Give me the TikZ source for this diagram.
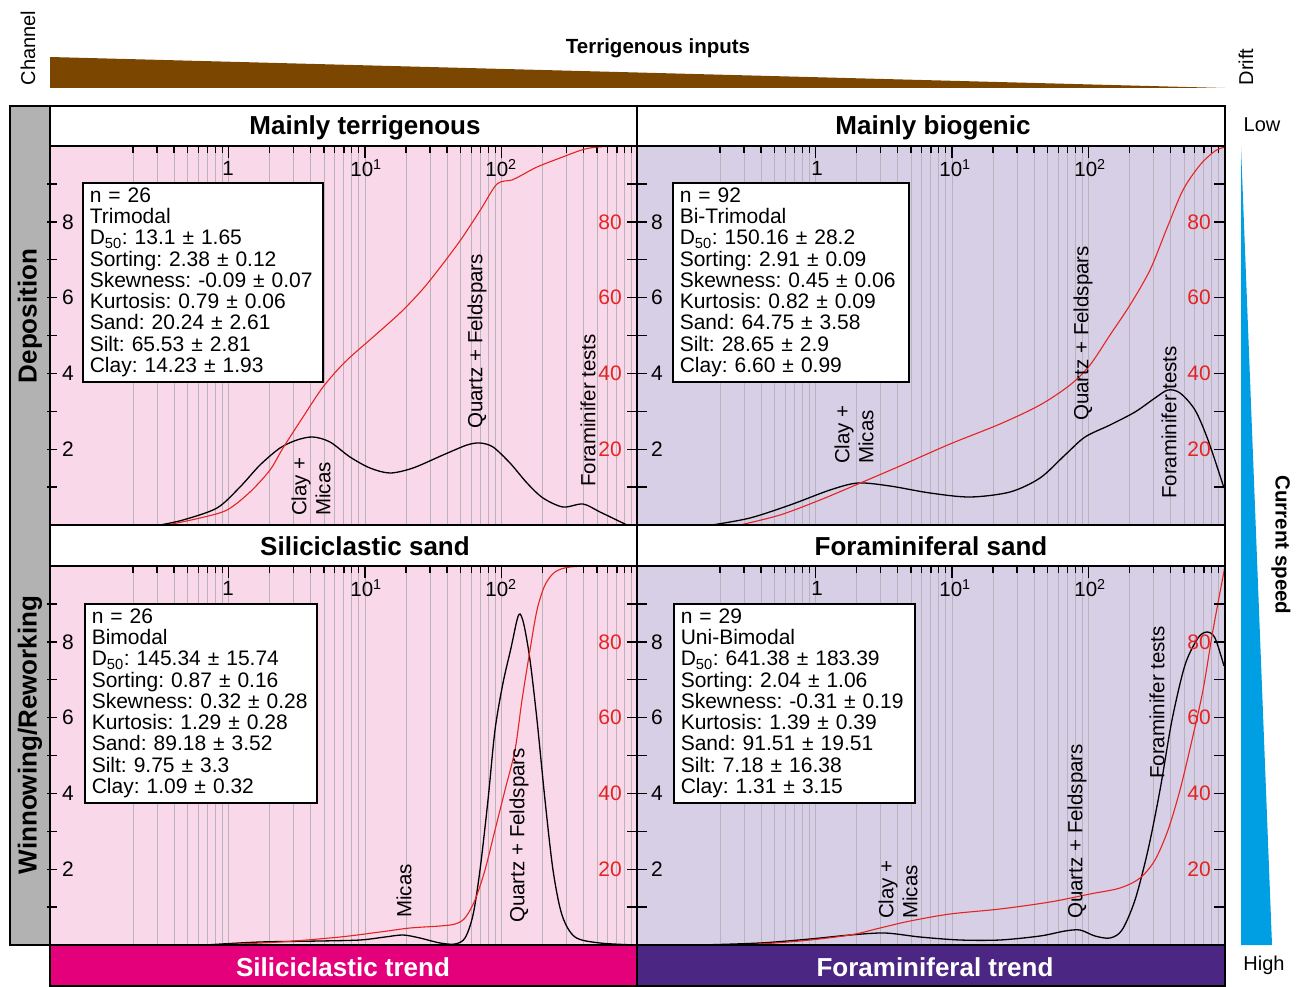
\documentclass[tikz,border=0pt]{standalone}
\usepackage{fontspec}
\setmainfont{Liberation Sans}
\frenchspacing

\definecolor{sedpink}{HTML}{F8D8E9}
\definecolor{biolilac}{HTML}{D7CFE6}
\definecolor{trendmagenta}{HTML}{E3007A}
\definecolor{trendpurple}{HTML}{4B2683}
\definecolor{terrbrown}{HTML}{7B4700}
\definecolor{speedblue}{HTML}{009FE3}
\definecolor{bargray}{HTML}{B2B2B2}
\definecolor{cumred}{HTML}{E52421}
\definecolor{gridgray}{HTML}{B9B3BE}

\newcommand*{\decW}{136.5}   % px per decade
\newcommand*{\unitH}{37.9}   % px per y unit
\newcommand*{\statfont}{\fontsize{21}{21.25}\selectfont}
\newcommand*{\labfont}{\fontsize{20.5}{24}\selectfont}

\tikzset{
	gridline/.style={draw=gridgray, line width=0.8pt},
	axtick/.style={line width=1.4pt},
	frame/.style={line width=1.6pt},
	freqcurve/.style={black, line width=1.3pt},
	cumcurve/.style={cumred, line width=1.1pt},
	statbox/.style={draw, fill=white, line width=1.6pt, align=left, anchor=north west,
		font=\statfont, inner xsep=7pt, inner ysep=5pt},
	header/.style={font=\fontsize{26}{26}\selectfont\bfseries},
	sidelab/.style={font=\fontsize{20}{20}\selectfont},
	minlab/.style={rotate=90, anchor=west, inner sep=0pt, align=left, font=\labfont},
	ylab/.style={font=\fontsize{21}{21}\selectfont},
	pctlab/.style={font=\fontsize{21}{21}\selectfont, text=cumred},
	declab/.style={font=\fontsize{20.5}{21}\selectfont}
}

\begin{document}
\begin{tikzpicture}[x=1pt,y=-1pt]
	\useasboundingbox (0,0) rectangle (1303,987);
	
	% terrigenous inputs wedge
	\fill[terrbrown] (50,57) -- (1225,88) -- (50,88) -- cycle;
	\node[sidelab, rotate=90] (channel) at (28,48) {Channel};
	\node[sidelab, rotate=90] (drift) at (1246,67) {Drift};
	\node[font=\fontsize{20.5}{21}\selectfont\bfseries] (terr) at (658,48) {Terrigenous inputs};
	
	% panel backgrounds
	\fill[sedpink] (50,146) rectangle (637,525);
	\fill[biolilac] (637,146) rectangle (1225,525);
	\fill[sedpink] (50,566) rectangle (637,945);
	\fill[biolilac] (637,566) rectangle (1225,945);
	\fill[bargray] (10,106) rectangle (50,945);
	
	% log grid and top ticks
	\foreach \px in {50,637} {
		\foreach \n in {-1,0,1,2} {
			\foreach \k in {1,...,9} {
				\pgfmathsetmacro{\gx}{\px+178.5+\decW*(\n+log10(\k))}
				\pgfmathtruncatemacro{\keep}{\gx>\px+60}
				\ifnum\keep=1
					\draw[gridline] (\gx,146) -- (\gx,525) (\gx,566) -- (\gx,945);
					\ifnum\k=1
						\draw[axtick] (\gx,146) -- ++(0,12) (\gx,566) -- ++(0,12);
					\else
						\draw[axtick] (\gx,146) -- ++(0,7) (\gx,566) -- ++(0,7);
					\fi
				\fi
			}
		}
	}
	
	% decade labels
	\node[declab] (dTL0) at (228,168) {1};
	\node[declab] (dTL1) at (366,168) {10\textsuperscript{1}};
	\node[declab] (dTL2) at (501,168) {10\textsuperscript{2}};
	\node[declab] (dTR0) at (817,168) {1};
	\node[declab] (dTR1) at (955,168) {10\textsuperscript{1}};
	\node[declab] (dTR2) at (1090,168) {10\textsuperscript{2}};
	\node[declab] (dBL0) at (228,588) {1};
	\node[declab] (dBL1) at (366,588) {10\textsuperscript{1}};
	\node[declab] (dBL2) at (501,588) {10\textsuperscript{2}};
	\node[declab] (dBR0) at (817,588) {1};
	\node[declab] (dBR1) at (955,588) {10\textsuperscript{1}};
	\node[declab] (dBR2) at (1090,588) {10\textsuperscript{2}};
	
	% mainly terrigenous curves
	\draw[freqcurve] plot[smooth] coordinates {(160,525) (183,520) (217,508) (240,487) (260,465)
		(280,448) (297,440) (313,437) (330,442) (350,457) (370,468) (390,473) (413,468) (443,455)
		(467,445) (480,443) (493,447) (510,463) (527,483) (543,498) (563,507) (583,504) (600,512) (627,525)};
	\draw[cumcurve] plot[smooth] coordinates {(167,525) (200,518) (227,510) (250,492) (270,470)
		(283,448) (303,417) (323,387) (345,362) (372,338) (400,313) (422,290) (442,265) (462,238)
		(481,209) (497,184) (512,180) (522,175) (537,167) (560,158) (585,149) (605,146.5) (637,146)};
	
	% mainly biogenic curves
	\draw[freqcurve] plot[smooth] coordinates {(712,525) (750,518) (790,505) (830,490) (858,483)
		(890,486) (930,493) (970,497) (1010,492) (1040,478) (1065,455) (1085,437) (1110,425)
		(1135,412) (1155,398) (1168,390) (1180,393) (1195,410) (1208,440) (1224,488)};
	\draw[cumcurve] plot[smooth] coordinates {(740,525) (780,515) (820,500) (858,484) (900,466)
		(950,444) (1000,424) (1040,405) (1070,385) (1090,365) (1110,335) (1130,305) (1150,270)
		(1167,228) (1183,190) (1200,165) (1215,151) (1225,147)};
	
	% siliciclastic sand curves
	\draw[freqcurve] plot[smooth] coordinates {(205,945) (260,942) (320,941) (360,940) (385,937)
		(403,935) (420,938) (440,943) (455,944) (465,938) (473,915) (480,870) (488,800) (495,730)
		(503,683) (511,648) (517,620) (520,614) (524,625) (530,660) (537,720) (545,800) (553,870)
		(562,915) (575,937) (600,943) (637,945)};
	\draw[cumcurve] plot[smooth] coordinates {(215,945) (280,942) (340,937) (380,932) (410,928)
		(440,926) (455,924) (465,918) (475,900) (485,870) (495,830) (505,790) (515,750) (522,700)
		(530,650) (537,610) (545,585) (555,572) (570,567) (600,566) (637,566)};
	
	% foraminiferal sand curves
	\draw[freqcurve] plot[smooth] coordinates {(700,945) (760,943) (810,939) (850,935) (885,933)
		(920,937) (960,940) (1000,940) (1040,936) (1065,931) (1080,930) (1095,936) (1110,938)
		(1122,930) (1135,900) (1148,850) (1160,790) (1172,720) (1185,665) (1198,638) (1207,632)
		(1215,638) (1224,666)};
	\draw[cumcurve] plot[smooth] coordinates {(745,945) (800,941) (850,935) (880,928) (910,921)
		(950,914) (1000,909) (1050,902) (1090,894) (1120,888) (1140,878) (1155,860) (1168,830)
		(1180,790) (1192,740) (1203,690) (1213,630) (1225,566)};
	
	% component labels
	\node[minlab] (clayTL) at (311,516) {Clay +\\Micas};
	\node[minlab] (quartzTL) at (477,429) {Quartz + Feldspars};
	\node[minlab] (foramTL) at (588,487) {Foraminifer tests};
	\node[minlab] (clayTR) at (854,464) {Clay +\\Micas};
	\node[minlab] (quartzTR) at (1083,421) {Quartz + Feldspars};
	\node[minlab] (foramTR) at (1169,499) {Foraminifer tests};
	\node[minlab] (micaBL) at (404,918) {Micas};
	\node[minlab] (quartzBL) at (519,923) {Quartz + Feldspars};
	\node[minlab] (clayBR) at (898,919) {Clay +\\Micas};
	\node[minlab] (quartzBR) at (1077,919) {Quartz + Feldspars};
	\node[minlab] (foramBR) at (1157,779) {Foraminifer tests};
	
	% statistics boxes
	\node[statbox, text width=226pt] (statTL) at (82,182) {n = 26\\Trimodal\\D\textsubscript{50}: 13.1 ± 1.65\\
		Sorting: 2.38 ± 0.12\\Skewness: -0.09 ± 0.07\\Kurtosis: 0.79 ± 0.06\\Sand: 20.24 ± 2.61\\
		Silt: 65.53 ± 2.81\\Clay: 14.23 ± 1.93};
	\node[statbox, text width=222pt] (statTR) at (672,182) {n = 92\\Bi-Trimodal\\D\textsubscript{50}: 150.16 ± 28.2\\
		Sorting: 2.91 ± 0.09\\Skewness: 0.45 ± 0.06\\Kurtosis: 0.82 ± 0.09\\Sand: 64.75 ± 3.58\\
		Silt: 28.65 ± 2.9\\Clay: 6.60 ± 0.99};
	\node[statbox, text width=218pt] (statBL) at (84,603) {n = 26\\Bimodal\\D\textsubscript{50}: 145.34 ± 15.74\\
		Sorting: 0.87 ± 0.16\\Skewness: 0.32 ± 0.28\\Kurtosis: 1.29 ± 0.28\\Sand: 89.18 ± 3.52\\
		Silt: 9.75 ± 3.3\\Clay: 1.09 ± 0.32};
	\node[statbox, text width=227pt] (statBR) at (673,603) {n = 29\\Uni-Bimodal\\D\textsubscript{50}: 641.38 ± 183.39\\
		Sorting: 2.04 ± 1.06\\Skewness: -0.31 ± 0.19\\Kurtosis: 1.39 ± 0.39\\Sand: 91.51 ± 19.51\\
		Silt: 7.18 ± 16.38\\Clay: 1.31 ± 3.15};
	
	% y axes
	\foreach \v in {1,...,9} {
		\draw[axtick] (47,{525-\unitH*\v}) -- ++(10,0) (627,{525-\unitH*\v}) -- ++(20,0)
			(1214,{525-\unitH*\v}) -- ++(11,0);
		\draw[axtick] (47,{945-\unitH*\v}) -- ++(10,0) (627,{945-\unitH*\v}) -- ++(20,0)
			(1214,{945-\unitH*\v}) -- ++(11,0);
	}
	\foreach \v in {2,4,6,8} {
		\pgfmathtruncatemacro{\pc}{10*\v}
		\node[ylab] (yTL\v) at (68,{525-\unitH*\v}) {\v};
		\node[ylab] (yTR\v) at (657,{525-\unitH*\v}) {\v};
		\node[ylab] (yBL\v) at (68,{945-\unitH*\v}) {\v};
		\node[ylab] (yBR\v) at (657,{945-\unitH*\v}) {\v};
		\node[pctlab] (pTL\v) at (610,{525-\unitH*\v}) {\pc};
		\node[pctlab] (pTR\v) at (1199,{525-\unitH*\v}) {\pc};
		\node[pctlab] (pBL\v) at (610,{945-\unitH*\v}) {\pc};
		\node[pctlab] (pBR\v) at (1199,{945-\unitH*\v}) {\pc};
	}
	
	% headers
	\fill[white] (50,106) rectangle (1225,146);
	\fill[white] (50,525) rectangle (1225,566);
	\node[header] (hTL) at (365,128) {Mainly terrigenous};
	\node[header] (hTR) at (933,128) {Mainly biogenic};
	\node[header] (hBL) at (365,546) {Siliciclastic sand};
	\node[header] (hBR) at (931,546) {Foraminiferal sand};
	\node[header, rotate=90] (depo) at (30,316) {Deposition};
	\node[header, rotate=90] (winn) at (30,735) {Winnowing/Reworking};
	
	% trend bars
	\fill[trendmagenta] (50,945) rectangle (637,986);
	\fill[trendpurple] (637,945) rectangle (1225,986);
	\node[header, text=white] (trSil) at (343,967) {Siliciclastic trend};
	\node[header, text=white] (trFor) at (935,967) {Foraminiferal trend};
	
	% frame lines
	\draw[frame] (10,106) rectangle (1225,945);
	\draw[frame] (50,106) -- (50,945);
	\draw[frame] (50,146) -- (1225,146) (50,525) -- (1225,525) (50,566) -- (1225,566);
	\draw[frame] (637,106) -- (637,986);
	\draw[frame] (50,945) rectangle (1225,986);
	
	% current speed wedge
	\fill[speedblue] (1241,147) -- (1272,945) -- (1241,945) -- cycle;
	\node[sidelab] (low) at (1262,125) {Low};
	\node[sidelab] (high) at (1264,965) {High};
	\node[font=\fontsize{20.5}{21}\selectfont\bfseries, rotate=-90] (speed) at (1281,545) {Current speed};
	
\end{tikzpicture}
\end{document}
